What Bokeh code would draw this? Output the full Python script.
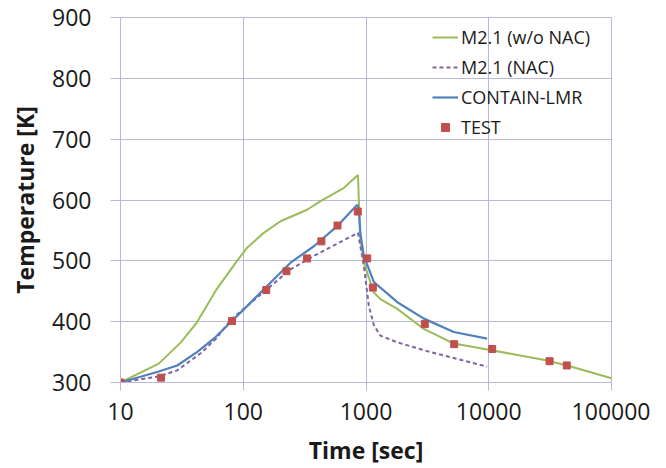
from bokeh.plotting import figure
from bokeh.models import Range1d, FixedTicker, Legend, LegendItem
from bokeh.embed import file_html
from bokeh.resources import INLINE

# ---- data ----
x_ticks = [10, 100, 1000, 10000, 100000]
x_tick_labels = ["10", "100", "1000", "10000", "100000"]
y_ticks = [300, 400, 500, 600, 700, 800, 900]

wo_nac_t = [10, 20.5, 31, 42, 61, 89, 108, 147, 201, 331, 427, 661, 860, 895, 960, 1160, 1310, 1800, 2960, 5190, 10000, 29900, 43600, 100000]
wo_nac_T = [300, 331, 366, 399, 454, 500, 522, 546, 565, 584, 598, 620, 641, 540, 497, 448, 437, 421, 388, 364, 354, 336, 328, 307]

nac_t = [10, 20.5, 29, 45, 60, 79, 157, 243, 376, 860, 960, 1055, 1160, 1310, 1800, 3350, 9700]
nac_T = [300, 310, 320, 348, 372, 403, 454, 486, 508, 546, 492, 426, 394, 377, 366, 350, 326]

lmr_t = [10, 20.5, 29, 42, 57.5, 79, 108, 157, 243, 376, 582, 848, 875, 900, 960, 1160, 1800, 2960, 5190, 9700]
lmr_T = [300, 318, 328, 350, 372, 399, 426, 459, 497, 524, 557, 592, 585, 545, 508, 465, 432, 405, 383, 372]

test_t = [10, 21.4, 81, 154, 225, 331, 433, 586, 857, 1023, 1137, 3013, 5230, 10670, 31300, 43200]
test_T = [300, 308, 401, 452, 483, 504, 532, 558, 581, 504, 456, 396, 363, 355, 335, 328]

FONT = "Open Sans"
GRID = "#b8b8dc"

p = figure(width=650, height=468, x_axis_type="log",
           x_range=Range1d(10, 100000), y_range=Range1d(300, 900),
           output_backend="svg", toolbar_location=None,
           min_border_left=120, min_border_right=39, min_border_top=17, min_border_bottom=84)

p.outline_line_color = GRID
p.background_fill_color = "white"

for ax in (p.xaxis[0], p.yaxis[0]):
    ax.axis_line_color = GRID
    ax.major_tick_line_color = GRID
    ax.minor_tick_line_color = None
    ax.major_tick_in = 0
    ax.major_label_text_font = FONT
    ax.major_label_text_font_size = "23px"
    ax.major_label_text_color = "#1a1a1a"
    ax.axis_label_text_font = FONT
    ax.axis_label_text_font_size = "23px"
    ax.axis_label_text_font_style = "bold"
    ax.axis_label_text_color = "#1a1a1a"

p.xaxis.ticker = FixedTicker(ticks=x_ticks, minor_ticks=[])
p.xaxis.major_label_overrides = {t: l for t, l in zip(x_ticks, x_tick_labels)}
p.xaxis.major_tick_out = 8
p.xaxis.major_label_standoff = 12
p.xaxis.axis_label = "Time [sec]"
p.xaxis.axis_label_standoff = 11

p.yaxis.ticker = FixedTicker(ticks=y_ticks, minor_ticks=[])
p.yaxis.major_tick_out = 10
p.yaxis.major_label_standoff = 19
p.yaxis.axis_label = "Temperature [K]"
p.yaxis.axis_label_standoff = 8

p.xgrid.ticker = FixedTicker(ticks=x_ticks, minor_ticks=[])
p.ygrid.ticker = FixedTicker(ticks=y_ticks, minor_ticks=[])
p.xgrid.grid_line_color = GRID
p.ygrid.grid_line_color = GRID
p.xgrid.minor_grid_line_color = None

r1 = p.line(wo_nac_t, wo_nac_T, line_color="#9bbb59", line_width=2)
r2 = p.line(nac_t, nac_T, line_color="#8064a2", line_width=2, line_dash="4 3")
r3 = p.line(lmr_t, lmr_T, line_color="#4f81bd", line_width=2.2)
r4 = p.scatter(test_t, test_T, marker="square", size=7, fill_color="#c0504d", line_color="#c0504d")

legend = Legend(items=[
    LegendItem(label="M2.1 (w/o NAC)", renderers=[r1]),
    LegendItem(label="M2.1 (NAC)", renderers=[r2]),
    LegendItem(label="CONTAIN-LMR", renderers=[r3]),
    LegendItem(label="TEST", renderers=[r4]),
], location=(312, 243))
legend.border_line_color = None
legend.background_fill_alpha = 0
legend.label_text_font = FONT
legend.label_text_font_size = "18px"
legend.label_text_color = "#1a1a1a"
legend.glyph_width = 26
legend.glyph_height = 20
legend.label_height = 20
legend.label_standoff = 3
legend.spacing = 6
legend.padding = 4
legend.margin = 0
p.add_layout(legend)

open("out.html", "w").write(file_html(p, INLINE))
